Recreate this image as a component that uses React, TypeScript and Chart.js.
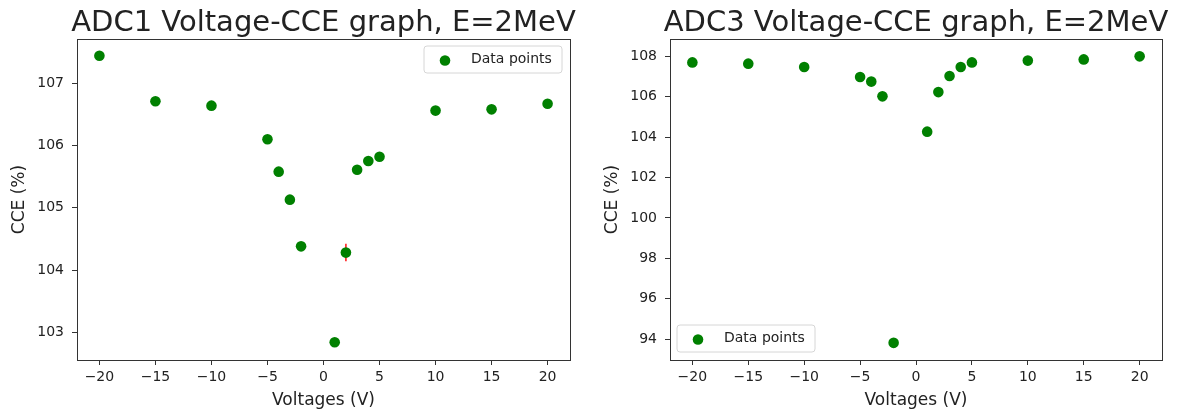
import React, { useEffect, useRef } from 'react';
import { Chart, registerables } from 'chart.js';

Chart.register(...registerables);

// ---- data ----
const voltages = [-20, -15, -10, -5, -4, -3, -2, 1, 2, 3, 4, 5, 10, 15, 20];
const adc1Cce = [107.44, 106.71, 106.64, 106.1, 105.58, 105.13, 104.38, 102.84, 104.28, 105.61, 105.75, 105.82, 106.56, 106.58, 106.67];
const adc1Err = [0, 0, 0, 0, 0, 0, 0, 0, 0.14, 0, 0, 0, 0, 0, 0];
const adc3Cce = [107.7, 107.64, 107.47, 106.98, 106.75, 106.02, 93.81, 104.27, 106.23, 107.03, 107.47, 107.7, 107.79, 107.85, 108.0];
const adc3Err = [0, 0, 0, 0, 0, 0, 0, 0, 0, 0, 0, 0, 0, 0, 0];
const xTicks = [-20, -15, -10, -5, 0, 5, 10, 15, 20];
const adc1YTicks = [103, 104, 105, 106, 107];
const adc3YTicks = [94, 96, 98, 100, 102, 104, 106, 108];
const xRange = [-22, 22];
const adc1YRange = [102.555, 107.71];
const adc3YRange = [92.96, 108.86];
const titles = ['ADC1 Voltage-CCE graph, E=2MeV', 'ADC3 Voltage-CCE graph, E=2MeV'];
const xLabel = 'Voltages (V)';
const yLabel = 'CCE (%)';
const legendLabel = 'Data points';

const FONT = '"DejaVu Sans", "Liberation Sans", sans-serif';
const TEXT = '#222222';
const FRAME = '#333333';
const MARKER = '#008000';
const MARKER_R = 5.3;

const fmt = (v: number) => (v < 0 ? '\u2212' + Math.abs(v) : String(v));

type PanelProps = {
  left: number;
  width: number;
  title: string;
  values: number[];
  errors: number[];
  yTicks: number[];
  yRange: number[];
  yAxisWidth: number;
  rightPad: number;
  yTitlePad: number;
  legendCorner: 'tr' | 'bl';
};

function Panel(p: PanelProps) {
  const ref = useRef<HTMLCanvasElement>(null);
  useEffect(() => {
    const canvas = ref.current!;
    const points = voltages.map((x, i) => ({ x, y: p.values[i] }));

    const framePlugin = {
      id: 'frame',
      afterDraw(chart: any) {
        const { ctx, chartArea: a } = chart;
        ctx.save();
        ctx.strokeStyle = FRAME;
        ctx.lineWidth = 1;
        ctx.strokeRect(Math.round(a.left) + 0.5, Math.round(a.top) + 0.5, Math.round(a.right - a.left), Math.round(a.bottom - a.top));
        ctx.restore();
      },
    };

    const errorPlugin = {
      id: 'errbars',
      beforeDatasetsDraw(chart: any) {
        const { ctx } = chart;
        const xs = chart.scales.x;
        const ys = chart.scales.y;
        ctx.save();
        ctx.strokeStyle = '#ff2020';
        ctx.lineWidth = 1.6;
        voltages.forEach((v, i) => {
          const e = p.errors[i];
          if (!e) return;
          const px = xs.getPixelForValue(v);
          ctx.beginPath();
          ctx.moveTo(px, ys.getPixelForValue(p.values[i] - e));
          ctx.lineTo(px, ys.getPixelForValue(p.values[i] + e));
          ctx.stroke();
        });
        ctx.restore();
      },
    };

    const decorPlugin = {
      id: 'decor',
      afterDraw(chart: any) {
        const { ctx, chartArea: a } = chart;
        ctx.save();
        // title
        ctx.fillStyle = TEXT;
        ctx.font = `29px ${FONT}`;
        ctx.textAlign = 'center';
        ctx.textBaseline = 'alphabetic';
        ctx.fillText(p.title, (a.left + a.right) / 2, 31);
        // legend
        const w = 138;
        const h = 27;
        const bx = p.legendCorner === 'tr' ? a.right - 8 - w : a.left + 7;
        const by = p.legendCorner === 'tr' ? a.top + 7 : a.bottom - 8 - h;
        const r = 3;
        ctx.beginPath();
        ctx.moveTo(bx + r, by);
        ctx.lineTo(bx + w - r, by);
        ctx.arcTo(bx + w, by, bx + w, by + r, r);
        ctx.lineTo(bx + w, by + h - r);
        ctx.arcTo(bx + w, by + h, bx + w - r, by + h, r);
        ctx.lineTo(bx + r, by + h);
        ctx.arcTo(bx, by + h, bx, by + h - r, r);
        ctx.lineTo(bx, by + r);
        ctx.arcTo(bx, by, bx + r, by, r);
        ctx.closePath();
        ctx.fillStyle = 'rgba(255,255,255,0.8)';
        ctx.fill();
        ctx.strokeStyle = '#d6d6d6';
        ctx.lineWidth = 1;
        ctx.stroke();
        ctx.beginPath();
        ctx.arc(bx + 21, by + h / 2 + 1, MARKER_R, 0, Math.PI * 2);
        ctx.fillStyle = MARKER;
        ctx.fill();
        ctx.fillStyle = TEXT;
        ctx.font = `14px ${FONT}`;
        ctx.textAlign = 'left';
        ctx.textBaseline = 'middle';
        ctx.fillText(legendLabel, bx + 47, by + h / 2);
        ctx.restore();
      },
    };

    const axisCommon = {
      type: 'linear' as const,
      grid: { drawOnChartArea: false, drawTicks: true, tickLength: 5, tickColor: FRAME, tickWidth: 1 },
      border: { display: true, color: FRAME, width: 1 },
    };

    const chart = new Chart(canvas, {
      type: 'scatter',
      data: {
        datasets: [
          {
            label: legendLabel,
            data: points,
            backgroundColor: MARKER,
            borderColor: MARKER,
            pointRadius: MARKER_R,
            pointHoverRadius: MARKER_R,
            pointBorderWidth: 0,
          },
        ],
      },
      options: {
        responsive: false,
        animation: false,
        events: [],
        layout: { padding: { left: 0, top: 39, right: p.rightPad, bottom: 0 } },
        plugins: { legend: { display: false }, title: { display: false }, tooltip: { enabled: false } },
        scales: {
          x: {
            ...axisCommon,
            min: xRange[0],
            max: xRange[1],
            afterBuildTicks: (s: any) => {
              s.ticks = xTicks.map((v) => ({ value: v }));
            },
            afterFit: (s: any) => {
              s.height = 54;
            },
            ticks: { color: TEXT, font: { family: FONT, size: 14 }, padding: 4, maxRotation: 0, autoSkip: false, callback: (v: any) => fmt(Number(v)) },
            title: { display: true, text: xLabel, color: TEXT, font: { family: FONT, size: 17 }, padding: { top: 0, bottom: 3 } },
          },
          y: {
            ...axisCommon,
            min: p.yRange[0],
            max: p.yRange[1],
            afterBuildTicks: (s: any) => {
              s.ticks = p.yTicks.map((v) => ({ value: v }));
            },
            afterFit: (s: any) => {
              s.width = p.yAxisWidth;
            },
            ticks: { color: TEXT, font: { family: FONT, size: 14 }, padding: 8, autoSkip: false, callback: (v: any) => fmt(Number(v)) },
            title: { display: true, text: yLabel, color: TEXT, font: { family: FONT, size: 17 }, padding: { top: p.yTitlePad, bottom: 0 } },
          },
        },
      },
      plugins: [errorPlugin, framePlugin, decorPlugin],
    } as any);
    return () => chart.destroy();
  }, []);
  return (
    <canvas
      ref={ref}
      width={p.width}
      height={414}
      style={{ position: 'absolute', left: p.left, top: 0, width: p.width, height: 414 }}
    />
  );
}

export default function App() {
  return (
    <div style={{ position: 'absolute', left: 0, top: 0, width: 1183, height: 414, background: '#fff', overflow: 'hidden' }}>
      <Panel
        left={0}
        width={590}
        title={titles[0]}
        values={adc1Cce}
        errors={adc1Err}
        yTicks={adc1YTicks}
        yRange={adc1YRange}
        yAxisWidth={77}
        rightPad={20}
        yTitlePad={9}
        legendCorner="tr"
      />
      <Panel
        left={590}
        width={593}
        title={titles[1]}
        values={adc3Cce}
        errors={adc3Err}
        yTicks={adc3YTicks}
        yRange={adc3YRange}
        yAxisWidth={80}
        rightPad={21}
        yTitlePad={12}
        legendCorner="bl"
      />
    </div>
  );
}
